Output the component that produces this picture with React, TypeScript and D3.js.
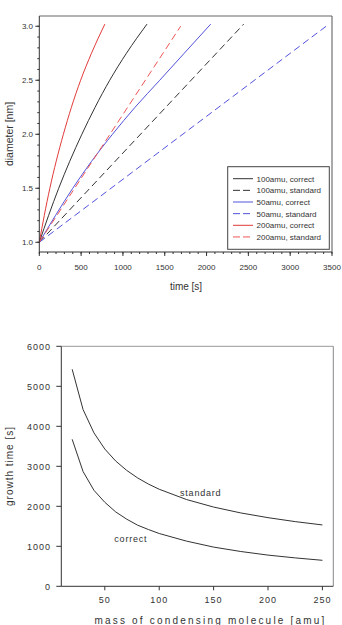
import React from "react";
import * as d3 from "d3";

// top panel: diameter vs time, points read at diameter steps
const diamSteps = [1.0, 1.25, 1.5, 1.75, 2.0, 2.25, 2.5, 2.75, 3.02];
const t100correct = [0, 112, 232, 364, 509, 667, 842, 1042, 1288];
const t50correct = [0, 195, 400, 625, 875, 1145, 1440, 1733, 2050];
const t200correct = [0, 60, 126, 202, 288, 384, 494, 624, 784];
const stdDiam = [1.0, 3.02];
const t100standard = [0, 2444];
const t50standard = [0, 3464];
const t200standard = [0, 1690];

const legendLabels = [
  "100amu, correct",
  "100amu, standard",
  "50amu, correct",
  "50amu, standard",
  "200amu, correct",
  "200amu, standard",
];

// bottom panel: growth time vs mass
const masses = [20, 30, 40, 50, 60, 70, 80, 90, 100, 125, 150, 175, 200, 225, 250];
const growthStandard = [5425, 4420, 3836, 3431, 3132, 2900, 2712, 2557, 2426, 2170, 1981, 1834, 1716, 1617, 1534];
const growthCorrect = [3675, 2870, 2400, 2100, 1860, 1680, 1530, 1420, 1320, 1130, 980, 870, 780, 710, 650];

const FONT = "Liberation Sans, Arial, sans-serif";

const TopChart: React.FC = () => {
  const x = d3.scaleLinear().domain([0, 3500]).range([39.3, 332]);
  const y = d3.scaleLinear().domain([0.91, 3.095]).range([252, 16]);
  const line = d3
    .line<[number, number]>()
    .x((d) => x(d[0]))
    .y((d) => y(d[1]))
    .curve(d3.curveMonotoneX);

  const series = [
    { t: t100correct, d: diamSteps, color: "#333", dash: null },
    { t: t100standard, d: stdDiam, color: "#333", dash: "7,4" },
    { t: t50correct, d: diamSteps, color: "#5252dc", dash: null },
    { t: t50standard, d: stdDiam, color: "#5252dc", dash: "7,4" },
    { t: t200correct, d: diamSteps, color: "#e23a3a", dash: null },
    { t: t200standard, d: [1.0, 3.0], color: "#ee5555", dash: "7,4" },
  ];

  const xMajor = d3.range(0, 3501, 500);
  const xMinor = d3.range(0, 3501, 100);
  const yMajor = [1.0, 1.5, 2.0, 2.5, 3.0];
  const yMinor = d3.range(10, 31).map((v) => v / 10);

  const [x0, x1] = x.range();
  const [yb, yt] = y.range();

  return (
    <g>
      {series.map((s, i) => (
        <path
          key={i}
          d={line(s.t.map((t, j) => [t, s.d[j]] as [number, number])) || ""}
          fill="none"
          stroke={s.color}
          strokeWidth={1}
          strokeDasharray={s.dash || undefined}
        />
      ))}
      {/* frame */}
      <line x1={x0} x2={x1} y1={yt} y2={yt} stroke="#999" strokeWidth={1.5} />
      <line x1={x1} x2={x1} y1={yt} y2={yb} stroke="#555" />
      <line x1={x0} x2={x0} y1={yt} y2={yb} stroke="#333" />
      <line x1={x0} x2={x1} y1={yb} y2={yb} stroke="#333" />
      {xMinor.map((v) => (
        <line key={"xm" + v} x1={x(v)} x2={x(v)} y1={yb} y2={yb + 2} stroke="#333" />
      ))}
      {xMajor.map((v) => (
        <g key={"x" + v}>
          <line x1={x(v)} x2={x(v)} y1={yb} y2={yb + 4} stroke="#333" />
          <text x={x(v)} y={269.5} textAnchor="middle" fontSize={8} fontFamily={FONT} fill="#333">
            {v}
          </text>
        </g>
      ))}
      {yMinor.map((v) => (
        <line key={"ym" + v} x1={x0 - 2} x2={x0} y1={y(v)} y2={y(v)} stroke="#333" />
      ))}
      {yMajor.map((v) => (
        <g key={"y" + v}>
          <line x1={x0 - 4} x2={x0} y1={y(v)} y2={y(v)} stroke="#333" />
          <text x={33} y={y(v) + 3} textAnchor="end" fontSize={8} fontFamily={FONT} fill="#333">
            {v.toFixed(1)}
          </text>
        </g>
      ))}
      <text x={186} y={290} textAnchor="middle" fontSize={10} fontFamily={FONT} fill="#333">
        time [s]
      </text>
      <text
        transform={`translate(13,134) rotate(-90)`}
        textAnchor="middle"
        fontSize={10.5}
        fontFamily={FONT}
        fill="#333"
      >
        diameter [nm]
      </text>
      {/* legend */}
      <rect x={227.7} y={166.7} width={101.6} height={82.6} fill="#fff" stroke="#444" strokeWidth={1} />
      {legendLabels.map((lab, i) => {
        const ly = 178.7 + i * 11.65;
        const s = series[i];
        return (
          <g key={lab}>
            <line
              x1={233}
              x2={253}
              y1={ly}
              y2={ly}
              stroke={s.color}
              strokeWidth={1}
              strokeDasharray={s.dash ? "7,3" : undefined}
            />
            <text x={256.5} y={ly + 3} fontSize={8} fontFamily={FONT} fill="#333">
              {lab}
            </text>
          </g>
        );
      })}
    </g>
  );
};

const BottomChart: React.FC = () => {
  const x = d3.scaleLinear().domain([10, 260]).range([61.3, 333.3]);
  const y = d3.scaleLinear().domain([0, 6000]).range([586.3, 346.3]);
  const line = d3
    .line<[number, number]>()
    .x((d) => x(d[0]))
    .y((d) => y(d[1]));
  const [x0, x1] = x.range();
  const [yb, yt] = y.range();
  const xTicks = [50, 100, 150, 200, 250];
  const yTicks = d3.range(0, 6001, 1000);

  return (
    <g>
      <path
        d={line(masses.map((m, i) => [m, growthStandard[i]] as [number, number])) || ""}
        fill="none"
        stroke="#333"
        strokeWidth={1}
      />
      <path
        d={line(masses.map((m, i) => [m, growthCorrect[i]] as [number, number])) || ""}
        fill="none"
        stroke="#333"
        strokeWidth={1}
      />
      <line x1={x0} x2={x1} y1={yt} y2={yt} stroke="#999" />
      <line x1={x1} x2={x1} y1={yt} y2={yb} stroke="#888" />
      <line x1={x0} x2={x0} y1={yt} y2={yb} stroke="#333" />
      <line x1={x0} x2={x1} y1={yb} y2={yb} stroke="#333" />
      {xTicks.map((v) => (
        <g key={"bx" + v}>
          <line x1={x(v)} x2={x(v)} y1={yb} y2={yb + 4} stroke="#333" />
          <text
            x={x(v)}
            y={602.5}
            textAnchor="middle"
            fontSize={9}
            letterSpacing={1}
            fontFamily={FONT}
            fill="#333"
          >
            {v}
          </text>
        </g>
      ))}
      {yTicks.map((v) => (
        <g key={"by" + v}>
          <line x1={x0 - 5} x2={x0} y1={y(v)} y2={y(v)} stroke="#333" />
          <text
            x={51}
            y={y(v) + 3.2}
            textAnchor="end"
            fontSize={9}
            letterSpacing={1}
            fontFamily={FONT}
            fill="#333"
          >
            {v}
          </text>
        </g>
      ))}
      <text x={180} y={495.8} fontSize={9} letterSpacing={0.8} fontFamily={FONT} fill="#333">
        standard
      </text>
      <text x={114.3} y={541.8} fontSize={9} letterSpacing={0.8} fontFamily={FONT} fill="#333">
        correct
      </text>
      <text
        x={210.5}
        y={623.5}
        textAnchor="middle"
        fontSize={10}
        letterSpacing={2.2}
        fontFamily={FONT}
        fill="#333"
      >
        mass of condensing molecule [amu]
      </text>
      <text
        transform={`translate(13,466) rotate(-90)`}
        textAnchor="middle"
        fontSize={10}
        letterSpacing={1}
        fontFamily={FONT}
        fill="#333"
      >
        growth time [s]
      </text>
    </g>
  );
};

export default function App() {
  return (
    <svg
      width={342}
      height={625}
      style={{ position: "absolute", left: 0, top: 0, background: "#fff" }}
    >
      <rect width={342} height={625} fill="#fff" />
      <TopChart />
      <BottomChart />
    </svg>
  );
}
